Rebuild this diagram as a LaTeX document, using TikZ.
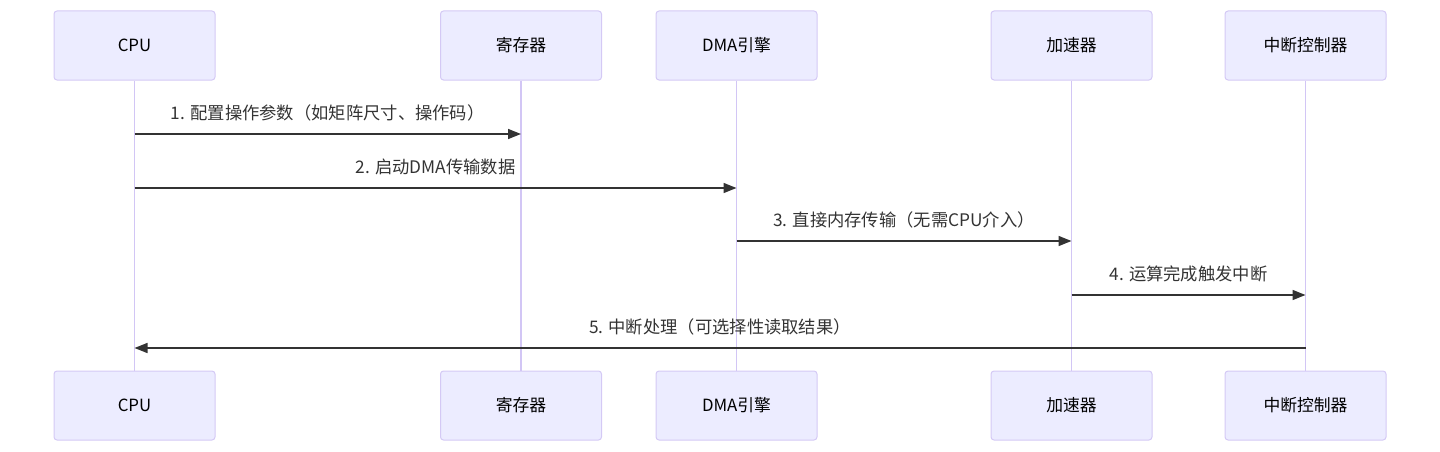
\documentclass[tikz,border=0pt]{standalone}
\usepackage{fontspec}
\setmainfont{Noto Sans CJK SC}
\usetikzlibrary{arrows.meta,calc}
\definecolor{actfill}{HTML}{ECECFF}
\definecolor{actdraw}{HTML}{D4C9F5}
\definecolor{lifecol}{HTML}{D2C6F5}
\definecolor{msgcol}{HTML}{333333}
\tikzset{
  actor/.style={draw=actdraw, fill=actfill, line width=1pt, rounded corners=3pt,
    minimum width=161pt, minimum height=69pt, inner sep=0pt, font=\fontsize{16.8}{20}\selectfont, text=black},
  life/.style={draw=lifecol, line width=1.8pt},
  msg/.style={draw=msgcol, line width=1.5pt, -{Triangle[length=13pt,width=10pt]}},
  lbl/.style={font=\fontsize{17.3}{20}\selectfont, text=msgcol, inner sep=0pt}
}
\begin{document}
\begin{tikzpicture}[x=1pt,y=-1pt]
\useasboundingbox (0,0) rectangle (1440,452);
% actors
\foreach \n/\x/\t in {cpu/134.5/CPU, reg/521/寄存器, dma/736.5/DMA引擎, acc/1071.5/加速器, irq/1305.5/中断控制器}{
  \node[actor] (\n T) at (\x,45.5) {\t};
  \node[actor] (\n B) at (\x,405.5) {\t};
  \draw[life] (\n T.south) -- (\n B.north);
  \foreach \k/\y in {1/134,2/188,3/241,4/295,5/348}{
    \coordinate (\n\k) at (\x,\y);
  }
}
% messages
\draw[msg] (cpu1) -- (reg1);
\node[lbl] (l1) at ($(cpu1)!0.5!(reg1)+(0,-21)$) {1. 配置操作参数（如矩阵尺寸、操作码）};
\draw[msg] (cpu2) -- (dma2);
\node[lbl] (l2) at ($(cpu2)!0.5!(dma2)+(0,-21)$) {2. 启动DMA传输数据};
\draw[msg] (dma3) -- (acc3);
\node[lbl] (l3) at ($(dma3)!0.5!(acc3)+(0,-21)$) {3. 直接内存传输（无需CPU介入）};
\draw[msg] (acc4) -- (irq4);
\node[lbl] (l4) at ($(acc4)!0.5!(irq4)+(0,-21)$) {4. 运算完成触发中断};
\draw[msg] (irq5) -- (cpu5);
\node[lbl] (l5) at ($(irq5)!0.5!(cpu5)+(0,-21)$) {5. 中断处理（可选择性读取结果）};
\end{tikzpicture}
\end{document}
